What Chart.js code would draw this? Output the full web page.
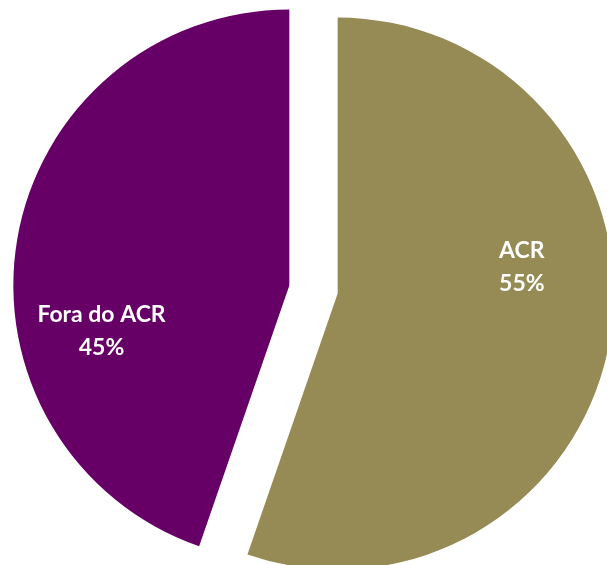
<!DOCTYPE html>
<html>
<head>
<meta charset="utf-8">
<script src="https://cdn.jsdelivr.net/npm/chart.js@4/dist/chart.umd.min.js"></script>
<style>
  html, body { margin: 0; padding: 0; background: #ffffff; }
  #wrap { width: 607px; height: 565px; position: relative; }
</style>
</head>
<body>
<div id="wrap"><canvas id="c" width="607" height="565"></canvas></div>
<script>
const categories = ["ACR", "Fora do ACR"];
const shares = [55.3, 44.7];
const sliceColors = ["#968A55", "#660066"];

// shift each slice outward along its bisector (exploded pie)
const explodePlugin = {
  id: 'explode',
  afterDatasetUpdate(chart, args, opts) {
    const meta = args.meta;
    meta.data.forEach(arc => {
      const mid = (arc.startAngle + arc.endAngle) / 2;
      arc.x += Math.cos(mid) * opts.distance;
      arc.y += Math.sin(mid) * opts.distance;
    });
  }
};

const labelPlugin = {
  id: 'sliceLabels',
  afterDatasetsDraw(chart, args, opts) {
    const ctx = chart.ctx;
    const meta = chart.getDatasetMeta(0);
    ctx.save();
    ctx.fillStyle = opts.color;
    ctx.font = opts.font;
    ctx.textAlign = 'center';
    ctx.textBaseline = 'middle';
    meta.data.forEach((arc, i) => {
      const p = opts.placement[i];
      const mid = (arc.startAngle + arc.endAngle) / 2 + p.angleShift * Math.PI / 180;
      const r = arc.outerRadius * p.frac;
      const cx = arc.x + Math.cos(mid) * r;
      const cy = arc.y + Math.sin(mid) * r;
      const lines = [categories[i], Math.round(shares[i]) + '%'];
      const lh = opts.lineHeight;
      lines.forEach((t, k) => {
        ctx.fillText(t, cx, cy + (k - (lines.length - 1) / 2) * lh);
      });
    });
    ctx.restore();
  }
};

new Chart(document.getElementById('c'), {
  type: 'pie',
  data: {
    labels: categories,
    datasets: [{
      data: shares,
      backgroundColor: sliceColors,
      borderWidth: 0,
      hoverOffset: 0
    }]
  },
  options: {
    responsive: false,
    animation: false,
    radius: 276,
    layout: { padding: { left: 20, top: 14, right: 0, bottom: 0 } },
    plugins: {
      legend: { display: false },
      tooltip: { enabled: false },
      explode: { distance: 24.5 },
      sliceLabels: {
        color: '#ffffff',
        font: 'bold 23px Lato',
        lineHeight: 33,
        placement: [
          { angleShift: -17.6, frac: 0.674 },
          { angleShift: -23.1, frac: 0.70 }
        ]
      }
    }
  },
  plugins: [explodePlugin, labelPlugin]
});
</script>
</body>
</html>
